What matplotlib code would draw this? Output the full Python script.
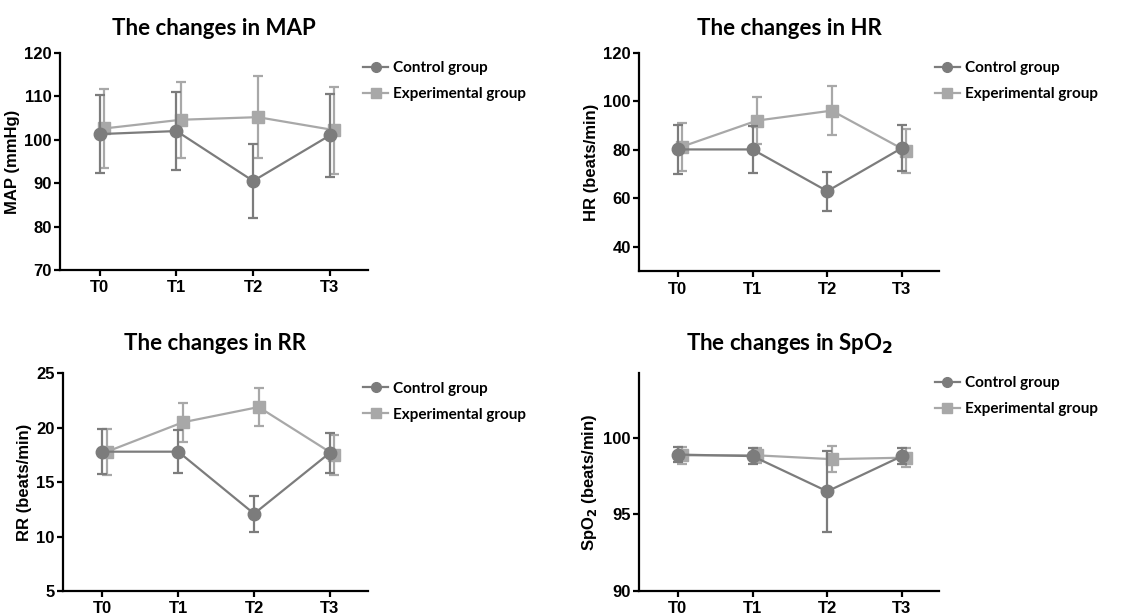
import numpy as np
import matplotlib
matplotlib.use("Agg")
import matplotlib.pyplot as plt
from matplotlib.lines import Line2D

# ---- data ----
time_points = ["T0", "T1", "T2", "T3"]
groups = ["Control group", "Experimental group"]

map_ctrl = [101.3, 102.0, 90.5, 101.0]
map_ctrl_sd = [9.0, 9.0, 8.6, 9.6]
map_exp = [102.6, 104.6, 105.2, 102.2]
map_exp_sd = [9.0, 8.7, 9.4, 10.0]

hr_ctrl = [80.2, 80.2, 63.0, 80.8]
hr_ctrl_sd = [10.0, 9.8, 8.1, 9.5]
hr_exp = [81.4, 92.1, 96.2, 79.5]
hr_exp_sd = [9.9, 9.7, 10.0, 9.1]

rr_ctrl = [17.8, 17.8, 12.1, 17.7]
rr_ctrl_sd = [2.05, 1.95, 1.65, 1.85]
rr_exp = [17.8, 20.5, 21.9, 17.5]
rr_exp_sd = [2.1, 1.8, 1.75, 1.8]

spo2_ctrl = [98.9, 98.8, 96.5, 98.8]
spo2_ctrl_sd = [0.5, 0.5, 2.65, 0.5]
spo2_exp = [98.85, 98.85, 98.6, 98.7]
spo2_exp_sd = [0.55, 0.5, 0.85, 0.6]

ctrl_color = "#7c7c7c"
exp_color = "#a8a8a8"

title_font = ["Lato", "DejaVu Sans"]
tick_font = ["Liberation Sans", "DejaVu Sans"]

panels = [
    dict(ctrl=map_ctrl, ctrl_sd=map_ctrl_sd, exp=map_exp, exp_sd=map_exp_sd,
         title="The changes in MAP", ylabel="MAP (mmHg)",
         ylim=(70, 120), yticks=np.arange(70, 121, 10),
         rect=[0.0531, 0.561, 0.273, 0.353], pad=13, leg_y=1.025),
    dict(ctrl=hr_ctrl, ctrl_sd=hr_ctrl_sd, exp=hr_exp, exp_sd=hr_exp_sd,
         title="The changes in HR", ylabel="HR (beats/min)",
         ylim=(30, 120), yticks=np.arange(40, 121, 20),
         rect=[0.566, 0.559, 0.266, 0.355], pad=13, leg_y=1.025),
    dict(ctrl=rr_ctrl, ctrl_sd=rr_ctrl_sd, exp=rr_exp, exp_sd=rr_exp_sd,
         title="The changes in RR", ylabel="RR (beats/min)",
         ylim=(5, 25), yticks=np.arange(5, 26, 5),
         rect=[0.0558, 0.039, 0.270, 0.354], pad=17, leg_y=1.025),
    dict(ctrl=spo2_ctrl, ctrl_sd=spo2_ctrl_sd, exp=spo2_exp, exp_sd=spo2_exp_sd,
         title=r"The changes in SpO$_\mathbf{2}$", ylabel=r"SpO$_\mathbf{2}$ (beats/min)",
         ylim=(90, 104.2), yticks=np.arange(90, 101, 5),
         rect=[0.566, 0.039, 0.266, 0.354], pad=17, leg_y=1.05),
]

fig = plt.figure(figsize=(11.29, 6.15), dpi=100)
x = np.arange(len(time_points))
offset = 0.06

handles = [
    Line2D([], [], color=ctrl_color, marker="o", markersize=7, linewidth=1.6),
    Line2D([], [], color=exp_color, marker="s", markersize=7, linewidth=1.6),
]

for p in panels:
    ax = fig.add_axes(p["rect"])
    ax.errorbar(x, p["ctrl"], yerr=p["ctrl_sd"], color=ctrl_color, marker="o",
                markersize=9, linewidth=1.6, elinewidth=1.6, capsize=3.5, capthick=1.6,
                zorder=3)
    ax.errorbar(x + offset, p["exp"], yerr=p["exp_sd"], color=exp_color, marker="s",
                markersize=8, linewidth=1.6, elinewidth=1.6, capsize=3.5, capthick=1.6,
                zorder=2)
    ax.set_xlim(-0.52, 3.5)
    ax.set_ylim(*p["ylim"])
    ax.set_yticks(p["yticks"])
    ax.set_xticks(x)
    ax.set_xticklabels(time_points)
    for s in ["top", "right"]:
        ax.spines[s].set_visible(False)
    for s in ["left", "bottom"]:
        ax.spines[s].set_linewidth(1.6)
    ax.tick_params(width=1.6, length=4, labelsize=12)
    ax.tick_params(axis="y", pad=2)
    for lab in ax.get_xticklabels() + ax.get_yticklabels():
        lab.set_family(tick_font)
        lab.set_fontweight("bold")
    ax.set_ylabel(p["ylabel"], family=tick_font, fontweight="bold", fontsize=12, labelpad=3)
    ax.set_title(p["title"], family=title_font, fontweight="bold", fontsize=16, pad=p["pad"])
    ax.legend(handles, groups, loc="upper left", bbox_to_anchor=(0.94, p["leg_y"]), frameon=False,
              handlelength=1.6, handletextpad=0.35, labelspacing=0.8,
              prop=dict(family=title_font, weight="bold", size=11))

fig.savefig("out.png", dpi=100)
